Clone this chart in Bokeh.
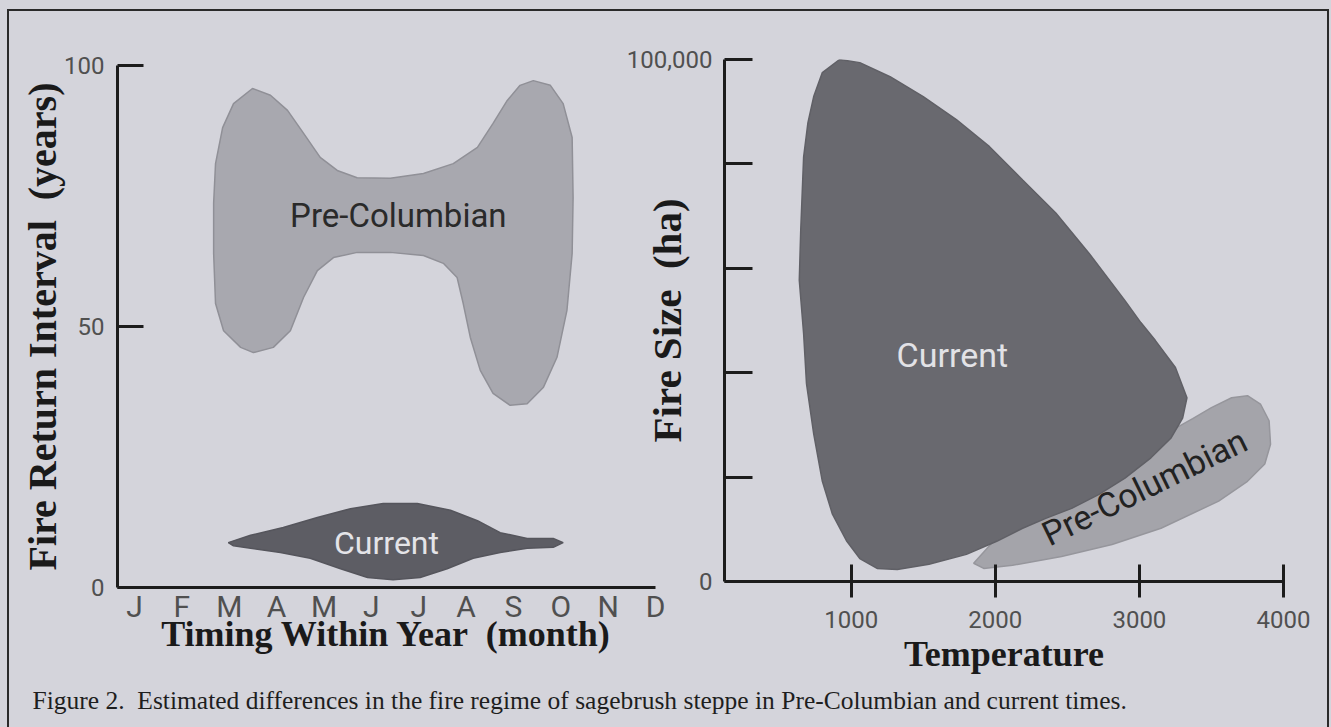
import math
from bokeh.plotting import figure
from bokeh.models import Range1d, FixedTicker, Label
from bokeh.layouts import column, row
from bokeh.embed import file_html
from bokeh.resources import INLINE
from bokeh.core.properties import value

# ---------------- data ----------------
months = ["J", "F", "M", "A", "M", "J", "J", "A", "S", "O", "N", "D"]
month_ticks = [1, 2, 3, 4, 5, 6, 7, 8, 9, 10, 11, 12]
years_ticks = [0, 50, 100]

# Left panel: outline of the Pre-Columbian region (month, years)
precol_month = [3.49, 3.09, 2.86, 2.71, 2.67, 2.67, 2.71, 2.88, 3.24, 3.51, 3.93, 4.29,
                4.57, 4.86, 5.20, 5.70, 6.40, 7.10, 7.52, 7.81, 7.94, 8.09, 8.30, 8.57,
                8.93, 9.29, 9.63, 9.92, 10.13, 10.24, 10.26, 10.24, 10.05, 9.78, 9.42,
                9.14, 8.87, 8.57, 8.24, 7.73, 7.10, 6.40, 5.70, 5.28, 4.92, 4.57, 4.23, 3.87]
precol_years = [95.6, 92.7, 88.1, 81.2, 73.6, 64.0, 54.4, 49.2, 46.0, 45.0, 46.0, 49.2,
                55.6, 60.7, 63.2, 64.2, 64.2, 63.6, 62.1, 59.4, 54.4, 47.9, 41.6, 37.2,
                34.9, 35.2, 38.3, 44.1, 53.1, 64.0, 74.7, 86.2, 92.7, 96.2, 97.1,
                96.2, 93.3, 88.9, 84.3, 81.2, 79.3, 78.4, 78.5, 79.9, 82.4, 87.0, 91.4, 94.3]

# Left panel: outline of the Current region (month, years)
current_month = [2.98, 3.45, 4.14, 4.86, 5.56, 6.25, 6.97, 7.67, 8.24, 8.72, 9.29, 9.84, 10.05,
                 9.84, 9.29, 8.72, 8.15, 7.60, 7.03, 6.46, 5.92, 5.35, 4.71, 4.08, 3.45, 3.09]
current_years = [8.6, 10.0, 11.5, 13.4, 15.1, 16.1, 16.1, 14.8, 12.8, 10.5, 9.4, 9.4, 8.6,
                 7.7, 7.5, 6.7, 5.6, 3.6, 1.9, 1.5, 1.9, 3.6, 5.6, 6.7, 7.5, 8.0]

# Right panel ticks
temp_ticks = [1000, 2000, 3000, 4000]
size_ticks = [0, 20000, 40000, 60000, 80000, 100000]
size_tick_labels = {0: "0", 20000: "", 40000: "", 60000: "", 80000: "", 100000: "100,000"}

# Right panel: outline of the Current region (temperature, fire size ha)
cur_temp = [920, 1060, 1270, 1500, 1730, 1960, 2190, 2420, 2650, 2900, 3010, 3110, 3250,
            3330, 3300, 3220, 3080, 2900, 2720, 2530, 2350, 2190, 2010, 1800, 1540, 1320,
            1180, 1060, 970, 870, 800, 740, 690, 670, 640, 650, 670, 700, 740, 800]
cur_size = [100000, 99400, 96700, 92900, 88500, 83300, 76900, 70600, 62900, 53800, 49600,
            46200, 41000, 35200, 31300, 27500, 23700, 19800, 16700, 14000, 12100, 10200,
            7700, 5200, 3300, 2300, 2500, 4400, 7700, 12900, 19200, 28300, 37900, 47500,
            57700, 67300, 81300, 87900, 92900, 97500]

# Right panel: outline of the Pre-Columbian region (temperature, fire size ha)
pre_temp = [1850, 1920, 2120, 2460, 2810, 3150, 3550, 3750, 3870, 3910, 3900, 3840, 3750,
            3640, 3500, 3370, 3240, 3070, 2720, 2370, 2030]
pre_size = [3500, 2500, 3100, 4800, 7100, 10200, 15400, 19200, 22500, 26300, 30800, 34000,
            35600, 35200, 33300, 31200, 29200, 25000, 18300, 13500, 9000]

caption = ("Figure 2.\u00a0 Estimated differences in the fire regime of sagebrush steppe "
           "in Pre-Columbian and current times.")

# ---------------- styling ----------------
BG = "#d4d4db"
AX = "#1c1c1c"
TICK_FONT = "Roboto"
TITLE_FONT = "Liberation Serif"


def base_fig(w, h, xr, yr, **kw):
    p = figure(width=w, height=h, x_range=xr, y_range=yr, output_backend="svg",
               toolbar_location=None, **kw)
    p.background_fill_color = None
    p.border_fill_color = None
    p.outline_line_color = None
    p.xgrid.visible = False
    p.ygrid.visible = False
    return p


def style_axis(ax):
    ax.axis_line_width = 3
    ax.axis_line_color = AX
    ax.major_tick_line_width = 3
    ax.major_tick_line_color = AX
    ax.minor_tick_line_color = None
    ax.major_label_text_font = TICK_FONT
    ax.major_label_text_color = "#505050"
    ax.axis_label_text_font = TITLE_FONT
    ax.axis_label_text_font_style = "bold"
    ax.axis_label_text_color = "#1a1a1a"


# ---------------- left panel ----------------
p1 = base_fig(668, 692, Range1d(0.64, 12.0), Range1d(0, 100),
              min_border_left=117, min_border_right=13, min_border_top=65,
              min_border_bottom=105, margin=(0, 0, -7, 0))
xa, ya = p1.xaxis[0], p1.yaxis[0]
style_axis(xa)
style_axis(ya)
xa.ticker = FixedTicker(ticks=month_ticks)
xa.major_label_overrides = {t: m for t, m in zip(month_ticks, months)}
xa.major_tick_in = 0
xa.major_tick_out = 0
xa.major_label_text_font_size = "30px"
xa.major_label_standoff = 1
xa.axis_label = "Timing Within Year\u00a0 (month)"
xa.axis_label_text_font_size = "36px"
xa.axis_label_standoff = -13

ya.ticker = FixedTicker(ticks=years_ticks)
ya.major_tick_in = 26
ya.major_tick_out = 0
ya.major_label_text_font_size = "24px"
ya.major_label_standoff = 13
ya.axis_label = "Fire Return Interval\u00a0 (years)"
ya.axis_label_text_font_size = "40px"
ya.axis_label_standoff = -4

p1.patch(precol_month, precol_years, fill_color="#a8a8af", line_color="#909097", line_width=1.5)
p1.patch(current_month, current_years, fill_color="#5d5d64", line_color="#55555c", line_width=1.5)
p1.text(x=[6.57], y=[71.3], text=["Pre-Columbian"], text_font=value("Roboto"),
        text_font_size="33px", text_align="center", text_baseline="middle", text_color="#2a2a2a")
p1.text(x=[6.32], y=[8.6], text=["Current"], text_font=value("Roboto"),
        text_font_size="32px", text_align="center", text_baseline="middle", text_color="#e4e4e8")

# ---------------- right panel ----------------
p2 = base_fig(711, 692, Range1d(121, 4000), Range1d(0, 100000),
              min_border_left=104, min_border_right=48, min_border_top=65,
              min_border_bottom=105, margin=(-6, 0, -1, -48))
xb, yb = p2.xaxis[0], p2.yaxis[0]
style_axis(xb)
style_axis(yb)
xb.ticker = FixedTicker(ticks=temp_ticks)
xb.major_tick_in = 17
xb.major_tick_out = 16
xb.major_label_text_font_size = "24px"
xb.major_label_standoff = 13
xb.axis_label = "Temperature"
xb.axis_label_text_font_size = "36px"
xb.axis_label_standoff = 3

yb.ticker = FixedTicker(ticks=size_ticks)
yb.major_label_overrides = size_tick_labels
yb.major_tick_in = 28
yb.major_tick_out = 0
yb.major_label_text_font_size = "24px"
yb.major_label_standoff = 12
yb.axis_label = "Fire Size\u00a0 (ha)"
yb.axis_label_text_font_size = "41px"
yb.axis_label_standoff = -66

p2.patch(pre_temp, pre_size, fill_color="#a4a4aa", line_color="#96969c", line_width=1.5)
p2.patch(cur_temp, cur_size, fill_color="#69696f", line_color="#606066", line_width=1.5)
p2.text(x=[1702], y=[43300], text=["Current"], text_font=value("Roboto"),
        text_font_size="34px", text_align="center", text_baseline="middle", text_color="#e2e2e6")
p2.text(x=[3035], y=[18100], text=["Pre-Columbian"], text_font=value("Roboto"),
        text_font_size="34px", text_align="center", text_baseline="middle",
        angle=math.radians(26), text_color="#222222")

# ---------------- caption ----------------
p3 = base_fig(1331, 42, Range1d(0, 1331), Range1d(0, 42), min_border=0,
              x_axis_location=None, y_axis_location=None)
p3.add_layout(Label(x=32, y=27, text=caption, text_align="left", text_baseline="middle",
                    text_font=TITLE_FONT, text_font_size="25.5px", text_color="#1e1e1e"))

frame_css = ("linear-gradient(#2a2a2a, #2a2a2a) 7px 9px / 2px 718px no-repeat, "
             "linear-gradient(#2a2a2a, #2a2a2a) 7px 9px / 1322px 2px no-repeat, "
             "linear-gradient(#2a2a2a, #2a2a2a) 1327px 9px / 2px 718px no-repeat, " + BG)

layout = column(row(p1, p2), p3, styles={"background": frame_css})

open("out.html", "w").write(file_html(layout, INLINE))
